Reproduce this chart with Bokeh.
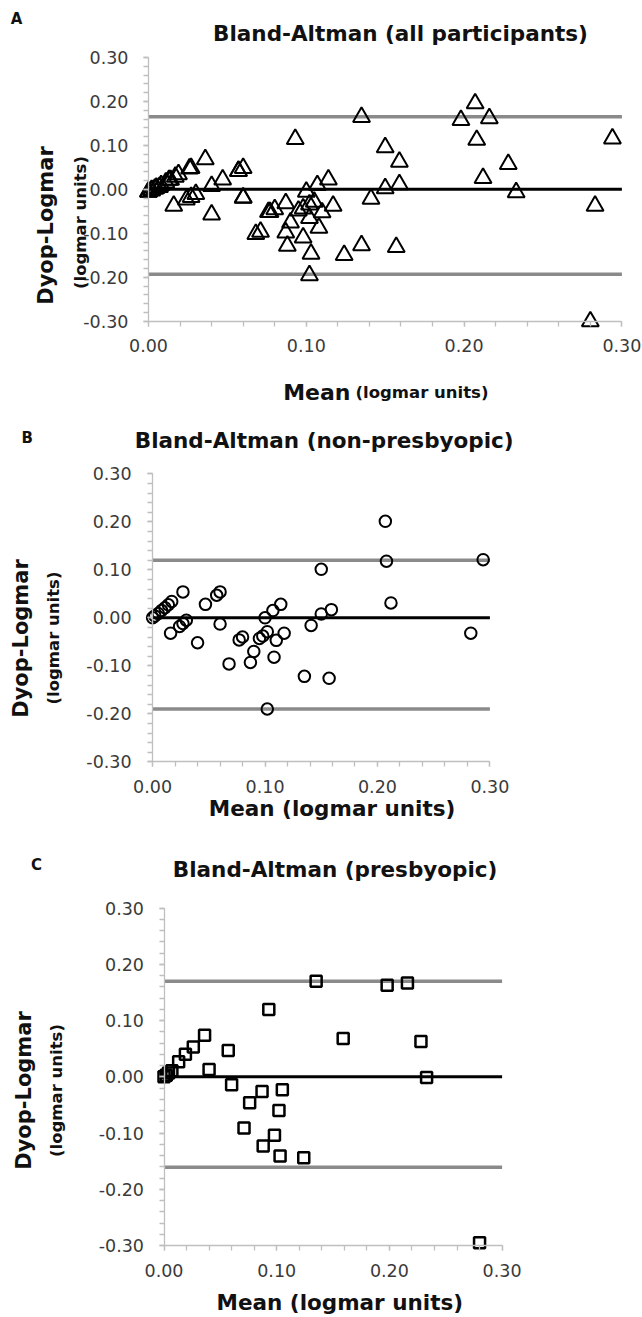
import math
from bokeh.plotting import figure
from bokeh.models import Range1d, FixedTicker, PrintfTickFormatter, Label, LinearAxis
from bokeh.embed import file_html
from bokeh.resources import INLINE
from bokeh.transform import dodge

# ---------------- data ----------------
x_ticks = [0.00, 0.10, 0.20, 0.30]
y_ticks = [-0.30, -0.20, -0.10, 0.00, 0.10, 0.20, 0.30]
x_minor = [0.00, 0.02, 0.04, 0.06, 0.08, 0.10, 0.12, 0.14, 0.16, 0.18, 0.20, 0.22, 0.24, 0.26, 0.28, 0.30]
y_minor = [-0.30, -0.28, -0.26, -0.24, -0.22, -0.20, -0.18, -0.16, -0.14, -0.12, -0.10, -0.08, -0.06,
           -0.04, -0.02, 0.00, 0.02, 0.04, 0.06, 0.08, 0.10, 0.12, 0.14, 0.16, 0.18, 0.20, 0.22, 0.24,
           0.26, 0.28, 0.30]

# non-presbyopic participants (panel B)
nonpres_mean = [0.000, 0.002, 0.005, 0.008, 0.011, 0.014, 0.017, 0.027, 0.016, 0.024, 0.027, 0.030,
                0.040, 0.047, 0.057, 0.060, 0.060, 0.068, 0.077, 0.080, 0.087, 0.090, 0.095, 0.098,
                0.100, 0.102, 0.102, 0.107, 0.108, 0.110, 0.114, 0.117, 0.135, 0.141, 0.150, 0.150,
                0.157, 0.159, 0.207, 0.208, 0.212, 0.283, 0.294]
nonpres_diff = [0.000, 0.004, 0.009, 0.015, 0.021, 0.027, 0.034, 0.054, -0.032, -0.018, -0.012, -0.005,
                -0.052, 0.028, 0.047, 0.054, -0.013, -0.096, -0.046, -0.040, -0.093, -0.070, -0.043, -0.038,
                0.000, -0.029, -0.190, 0.015, -0.082, -0.047, 0.028, -0.032, -0.122, -0.016, 0.101, 0.008,
                -0.126, 0.017, 0.201, 0.118, 0.031, -0.032, 0.121]

# presbyopic participants (panel C)
pres_mean = [0.000, 0.002, 0.004, 0.007, 0.013, 0.019, 0.026, 0.036, 0.040, 0.057, 0.060, 0.071,
             0.076, 0.087, 0.088, 0.093, 0.098, 0.102, 0.103, 0.105, 0.124, 0.135, 0.159, 0.198,
             0.216, 0.228, 0.233, 0.280]
pres_diff = [0.000, 0.003, 0.007, 0.011, 0.027, 0.040, 0.053, 0.074, 0.013, 0.047, -0.014, -0.091,
             -0.046, -0.026, -0.123, 0.120, -0.104, -0.060, -0.141, -0.023, -0.144, 0.170, 0.068, 0.163,
             0.167, 0.063, -0.001, -0.295]

# all participants (panel A)
all_mean = nonpres_mean + pres_mean
all_diff = nonpres_diff + pres_diff

# bias and limits of agreement (upper, lower)
bias_all, loa_all = 0.0, [0.165, -0.193]
bias_nonpres, loa_nonpres = 0.0, [0.120, -0.190]
bias_pres, loa_pres = 0.0, [0.170, -0.161]

# ---------------- layout geometry (page pixels) ----------------
W, H = 642, 1317
GEOM = {
    "A": dict(x0=148.0, x3=621.4, y3=57.0, ym3=320.7),
    "B": dict(x0=152.1, x3=489.4, y3=473.3, ym3=761.3),
    "C": dict(x0=163.5, x3=501.6, y3=907.7, ym3=1245.0),
}
BOLD = "DejaVu Sans"
TICKF = "DejaVu Sans"

p = figure(width=W, height=H, x_range=Range1d(0, W), y_range=Range1d(H, 0),
           x_axis_type=None, y_axis_type=None, min_border=0,
           output_backend="svg", toolbar_location=None,
           background_fill_color="white", border_fill_color="white",
           outline_line_color=None)
p.grid.visible = False

# one pair of ranges per panel, mapped so that the panel's axes land where they do in the reference
p.extra_x_ranges = {}
p.extra_y_ranges = {}
for key, g in GEOM.items():
    kx = (g["x3"] - g["x0"]) / 0.3
    ky = (g["ym3"] - g["y3"]) / 0.6
    y0 = g["y3"] + 0.3 * ky
    g["kx"], g["ky"] = kx, ky
    p.extra_x_ranges["x" + key] = Range1d((0 - g["x0"]) / kx, (W - g["x0"]) / kx)
    p.extra_y_ranges["y" + key] = Range1d((y0 - H) / ky, y0 / ky)


def style_axis(ax, standoff):
    ax.axis_line_color = "#bfbfbf"
    ax.axis_line_width = 1.3
    ax.major_tick_line_color = "#bfbfbf"
    ax.minor_tick_line_color = "#bfbfbf"
    ax.major_tick_line_width = 1.3
    ax.minor_tick_line_width = 1.3
    ax.major_tick_in = 0
    ax.major_tick_out = 5
    ax.minor_tick_in = 0
    ax.minor_tick_out = 5
    ax.major_label_text_font = TICKF
    ax.major_label_text_font_size = "17.5px"
    ax.major_label_text_color = "#3a3a3a"
    ax.major_label_standoff = standoff
    ax.formatter = PrintfTickFormatter(format="%.2f")


def add_axes(key, ystandoff, xstandoff):
    xr, yr = "x" + key, "y" + key
    yax = LinearAxis(x_range_name=xr, y_range_name=yr, fixed_location=x_ticks[0],
                     ticker=FixedTicker(ticks=y_ticks, minor_ticks=y_minor),
                     bounds=(y_ticks[0], y_ticks[-1]))
    style_axis(yax, ystandoff)
    p.add_layout(yax, "left")
    xax = LinearAxis(x_range_name=xr, y_range_name=yr, fixed_location=y_ticks[0],
                     ticker=FixedTicker(ticks=x_ticks, minor_ticks=x_minor),
                     bounds=(x_ticks[0], x_ticks[-1]))
    style_axis(xax, xstandoff)
    p.add_layout(xax, "below")


def add_lines(key, bias, loa):
    xr, yr = "x" + key, "y" + key
    p.segment(x0=[x_ticks[0]] * len(loa), x1=[x_ticks[-1]] * len(loa), y0=loa, y1=loa,
              line_color="#8a8a8a", line_width=3.5, x_range_name=xr, y_range_name=yr)
    p.segment(x0=[x_ticks[0]], x1=[x_ticks[-1]], y0=[bias], y1=[bias],
              line_color="black", line_width=3, x_range_name=xr, y_range_name=yr)


def add_text(text, sx, sy, size, font=BOLD, align="center", baseline="middle",
             angle=0.0, color="#111111"):
    p.add_layout(Label(x=sx, y=sy, text=text, text_font=font, text_font_size=size,
                       text_font_style="bold", text_align=align,
                       text_baseline=baseline, angle=angle, text_color=color))


# ---------------- panel A ----------------
add_axes("A", 15, 13)
add_lines("A", bias_all, loa_all)
tri_size = 17
pA_sc = p.scatter(x=all_mean, y=all_diff, marker="triangle", size=tri_size,
                  fill_alpha=0, line_color="black", line_width=2,
                  x_range_name="xA", y_range_name="yA")
# centre the triangles' bounding box (not their centroid) on the point, as the reference does
pA_sc.glyph.y = dodge("y", -0.289 * (tri_size / 2) / GEOM["A"]["ky"])
add_text("A", 16, 18.3, "15px")
add_text("Bland-Altman (all participants)", 400, 32.5, "21.5px")
add_text("Dyop-Logmar", 45.5, 225, "21px", angle=math.pi / 2)
add_text("(logmar units)", 80, 222, "16.5px", angle=math.pi / 2)
add_text("Mean", 350, 391.5, "22px", align="right", baseline="alphabetic")
add_text("(logmar units)", 355, 391.5, "16.5px", align="left", baseline="alphabetic")

# ---------------- panel B ----------------
add_axes("B", 16, 13)
add_lines("B", bias_nonpres, loa_nonpres)
p.scatter(x=nonpres_mean, y=nonpres_diff, marker="circle", size=11.5,
          fill_alpha=0, line_color="black", line_width=2,
          x_range_name="xB", y_range_name="yB")
add_text("B", 26.6, 437.3, "15px")
add_text("Bland-Altman (non-presbyopic)", 323.7, 440, "21.5px")
add_text("Dyop-Logmar", 20.5, 638, "21px", angle=math.pi / 2)
add_text("(logmar units)", 53, 637.5, "16.5px", angle=math.pi / 2)
add_text("Mean (logmar units)", 331.6, 808.3, "21.5px")

# ---------------- panel C ----------------
add_axes("C", 15, 13)
add_lines("C", bias_pres, loa_pres)
p.scatter(x=pres_mean, y=pres_diff, marker="square", size=11,
          fill_alpha=0, line_color="black", line_width=2.5,
          x_range_name="xC", y_range_name="yC")
add_text("C", 36, 864, "15px")
add_text("Bland-Altman (presbyopic)", 334.6, 869.3, "21.5px")
add_text("Dyop-Logmar", 23.5, 1090, "21px", angle=math.pi / 2)
add_text("(logmar units)", 55.7, 1090, "16.5px", angle=math.pi / 2)
add_text("Mean (logmar units)", 339.3, 1302, "21.5px")

open("out.html", "w").write(file_html(p, INLINE))
